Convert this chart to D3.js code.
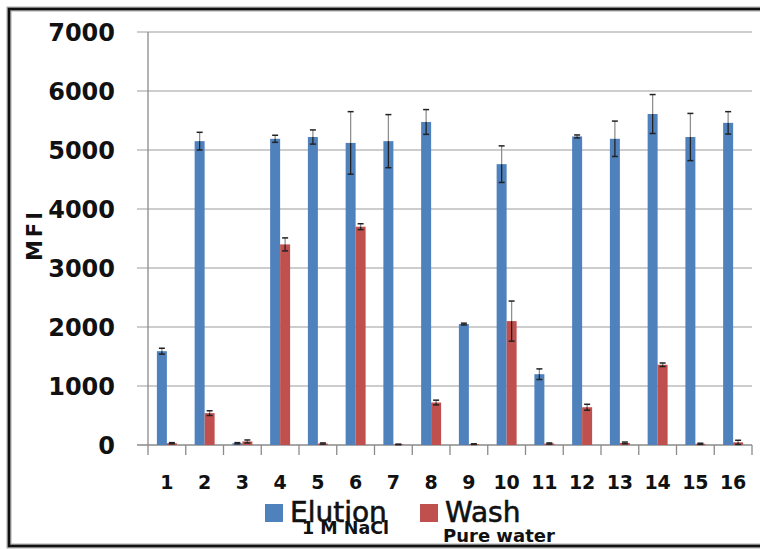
<!DOCTYPE html>
<html>
<head>
<meta charset="utf-8">
<script src="https://cdn.jsdelivr.net/npm/d3@7"></script>
<style>
  html, body { margin: 0; padding: 0; background: #fff; }
  svg { display: block; }
</style>
</head>
<body>
<div id="chart"></div>
<script>
const categories = ['1', '2', '3', '4', '5', '6', '7', '8', '9', '10', '11', '12', '13', '14', '15', '16']
const seriesNames = ['Elution', 'Wash']
const seriesNotes = ['1 M NaCl', 'Pure water']
const elution = [1590, 5150, 30, 5190, 5220, 5120, 5150, 5475, 2050, 4760, 1200, 5230, 5190, 5610, 5220, 5460]
const elutionErr = [50, 150, 10, 60, 120, 530, 450, 210, 15, 310, 90, 25, 300, 330, 400, 190]
const wash = [30, 540, 60, 3400, 25, 3700, 10, 720, 15, 2100, 25, 640, 35, 1360, 20, 45]
const washErr = [10, 40, 25, 110, 10, 50, 5, 40, 5, 340, 10, 50, 15, 30, 10, 35]
const yTicks = [0, 1000, 2000, 3000, 4000, 5000, 6000, 7000]

const width = 760
const height = 549
const colors = ['#4f81bd', '#c0504d']

const svg = d3.select('#chart').append('svg')
  .attr('width', width)
  .attr('height', height)

// outer frame
svg.append('rect')
  .attr('x', 9).attr('y', 9)
  .attr('width', width + 20).attr('height', 537)
  .attr('fill', 'none')
  .attr('stroke', '#aaa')
  .attr('stroke-width', 5)
svg.append('rect')
  .attr('x', 9).attr('y', 9)
  .attr('width', width + 20).attr('height', 537)
  .attr('fill', 'none')
  .attr('stroke', '#111')
  .attr('stroke-width', 2.5)

const plot = { left: 148, right: 752, top: 32, bottom: 445 }

const y = d3.scaleLinear().domain([0, 7000]).range([plot.bottom, plot.top])
const x = d3.scaleBand().domain(categories).range([plot.left, plot.right])
const xInner = d3.scaleBand().domain(seriesNames).range([0, x.bandwidth()]).paddingOuter(0.89)

// gridlines
svg.append('g')
  .selectAll('line')
  .data(yTicks)
  .join('line')
  .attr('x1', plot.left - 11)
  .attr('x2', plot.right)
  .attr('y1', d => y(d))
  .attr('y2', d => y(d))
  .attr('stroke', d => d === 0 ? '#8a8a8a' : '#bdbdbd')
  .attr('stroke-width', 1.3)

// y axis line
svg.append('line')
  .attr('x1', plot.left).attr('x2', plot.left)
  .attr('y1', plot.top).attr('y2', plot.bottom)
  .attr('stroke', '#8a8a8a')
  .attr('stroke-width', 1.3)

// y tick labels
svg.append('g')
  .selectAll('text')
  .data(yTicks)
  .join('text')
  .attr('x', 115)
  .attr('y', d => y(d))
  .attr('dy', '0.36em')
  .attr('text-anchor', 'end')
  .attr('font-family', 'DejaVu Sans')
  .attr('font-weight', 'bold')
  .attr('font-size', 24)
  .attr('fill', '#111')
  .text(d => d)

// x ticks at category boundaries
const boundaries = categories.map(c => x(c)).concat([plot.right])
svg.append('g')
  .selectAll('line')
  .data(boundaries)
  .join('line')
  .attr('x1', d => d).attr('x2', d => d)
  .attr('y1', plot.bottom).attr('y2', plot.bottom + 10)
  .attr('stroke', '#8a8a8a')
  .attr('stroke-width', 1.3)

// x labels
svg.append('g')
  .selectAll('text')
  .data(categories)
  .join('text')
  .attr('x', d => x(d) + x.bandwidth() / 2)
  .attr('y', 489)
  .attr('text-anchor', 'middle')
  .attr('font-family', 'DejaVu Sans')
  .attr('font-weight', 'bold')
  .attr('font-size', 19)
  .attr('fill', '#111')
  .text(d => d)

// MFI label
svg.append('text')
  .attr('transform', 'translate(42,235) rotate(-90)')
  .attr('text-anchor', 'middle')
  .attr('font-family', 'DejaVu Sans')
  .attr('font-weight', 'bold')
  .attr('font-size', 21)
  .attr('letter-spacing', 3)
  .attr('fill', '#111')
  .text('MFI')

// bars
const series = [
  { name: 'Elution', values: elution, errs: elutionErr },
  { name: 'Wash', values: wash, errs: washErr }
]

series.forEach((s, si) => {
  const g = svg.append('g')
  const rows = categories.map((c, i) => ({ c, v: s.values[i], e: s.errs[i] }))
  const bx = d => x(d.c) + xInner(s.name)
  g.selectAll('rect')
    .data(rows)
    .join('rect')
    .attr('x', bx)
    .attr('y', d => y(d.v))
    .attr('width', xInner.bandwidth())
    .attr('height', d => y(0) - y(d.v))
    .attr('fill', colors[si])

  const cx = d => bx(d) + xInner.bandwidth() / 2
  // error bar part above bar
  g.selectAll('line.up')
    .data(rows)
    .join('line')
    .attr('class', 'up')
    .attr('x1', cx).attr('x2', cx)
    .attr('y1', d => y(d.v + d.e)).attr('y2', d => y(d.v))
    .attr('stroke', '#8f8f8f')
    .attr('stroke-width', 1.3)
  // error bar part inside bar
  g.selectAll('line.down')
    .data(rows)
    .join('line')
    .attr('class', 'down')
    .attr('x1', cx).attr('x2', cx)
    .attr('y1', d => y(d.v)).attr('y2', d => y(Math.max(0, d.v - d.e)))
    .attr('stroke', '#222')
    .attr('stroke-width', 1.3)
  // caps
  ;['hi', 'lo'].forEach(k => {
    g.selectAll('line.cap-' + k)
      .data(rows)
      .join('line')
      .attr('class', 'cap-' + k)
      .attr('x1', d => cx(d) - 3).attr('x2', d => cx(d) + 3)
      .attr('y1', d => y(k === 'hi' ? d.v + d.e : Math.max(0, d.v - d.e)))
      .attr('y2', d => y(k === 'hi' ? d.v + d.e : Math.max(0, d.v - d.e)))
      .attr('stroke', '#222')
      .attr('stroke-width', 1.5)
  })
})

// legend
const legendX = [265, 420]
const legend = svg.append('g')
seriesNames.forEach((name, i) => {
  legend.append('rect')
    .attr('x', legendX[i]).attr('y', 504)
    .attr('width', 18).attr('height', 18)
    .attr('fill', colors[i])
  legend.append('text')
    .attr('x', legendX[i] + 25)
    .attr('y', 522)
    .attr('font-family', 'DejaVu Sans')
    .attr('font-size', 28)
    .attr('fill', '#111')
    .attr('stroke', '#111')
    .attr('stroke-width', 0.6)
    .text(name)
})
legend.append('text')
  .attr('x', 302).attr('y', 534)
  .attr('font-family', 'DejaVu Sans')
  .attr('font-weight', 'bold')
  .attr('font-size', 17.5)
  .attr('fill', '#111')
  .text(seriesNotes[0])
legend.append('text')
  .attr('x', 443).attr('y', 542)
  .attr('font-family', 'DejaVu Sans')
  .attr('font-weight', 'bold')
  .attr('font-size', 18)
  .attr('fill', '#111')
  .text(seriesNotes[1])
</script>
</body>
</html>
